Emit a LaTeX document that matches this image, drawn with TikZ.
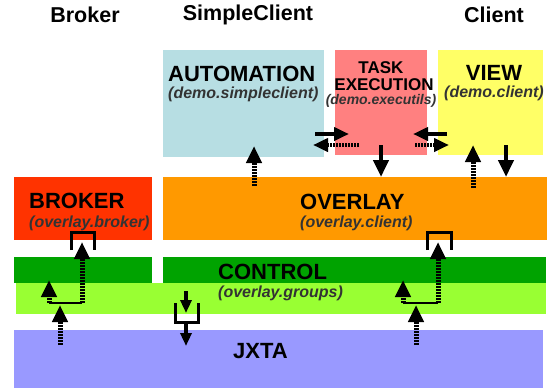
\documentclass[tikz,border=0pt]{standalone}
\usepackage{fontspec}
\setmainfont{Liberation Sans}
\usetikzlibrary{arrows.meta}
\definecolor{autoblue}{HTML}{B7DEE3}
\definecolor{taskred}{HTML}{FF8080}
\definecolor{viewyellow}{HTML}{FFFF66}
\definecolor{brokerred}{HTML}{FF3300}
\definecolor{overlayorange}{HTML}{FF9900}
\definecolor{controlgreen}{HTML}{00A300}
\definecolor{groupsgreen}{HTML}{99FF33}
\definecolor{jxtablue}{HTML}{9999FF}
\tikzset{
  layer/.style={draw=none, inner sep=0pt, anchor=north west},
  headtitle/.style={font=\fontsize{21.5}{24}\selectfont\bfseries},
  boxtitle/.style={font=\fontsize{22}{24}\selectfont\bfseries, inner sep=0pt},
  pkgname/.style={font=\fontsize{16}{18}\selectfont\bfseries\itshape, text=black!80, inner sep=0pt},
  bigtip/.style={-{Triangle[length=17pt,width=15pt]}},
  solidarrow/.style={bigtip, line width=4.5pt},
  stripy/.style={bigtip, line width=5pt, dash pattern=on 2pt off 1pt},
  sidesolid/.style={-{Triangle[length=15pt,width=13pt]}, line width=4.5pt},
  sidestripy/.style={sidesolid, dash pattern=on 2pt off 1pt},
  smallarrow/.style={-{Triangle[length=13pt,width=11pt]}, line width=3.5pt},
  bracket/.style={line width=3pt},
  joinline/.style={line width=1.4pt},
}
\begin{document}
\begin{tikzpicture}[x=1pt,y=-1pt]
\useasboundingbox (0,0) rectangle (553,389);
% layers
\node[layer, fill=autoblue, minimum width=161pt, minimum height=107pt] (automation) at (163,50) {};
\node[layer, fill=taskred, minimum width=92pt, minimum height=105pt] (task) at (335,50) {};
\node[layer, fill=viewyellow, minimum width=105pt, minimum height=105pt] (view) at (438,50) {};
\node[layer, fill=brokerred, minimum width=138pt, minimum height=63pt] (broker) at (14,177) {};
\node[layer, fill=overlayorange, minimum width=384pt, minimum height=63pt] (overlay) at (163,177) {};
\node[layer, fill=controlgreen, minimum width=138pt, minimum height=26pt] (controlL) at (14,257) {};
\node[layer, fill=controlgreen, minimum width=383pt, minimum height=26pt] (controlR) at (163,257) {};
\node[layer, fill=groupsgreen, minimum width=530pt, minimum height=31pt] (groups) at (16,283) {};
\node[layer, fill=jxtablue, minimum width=529pt, minimum height=58pt] (jxta) at (14,330) {};
% column titles
\foreach \x/\name/\lbl in {85/hbroker/Broker, 248/hsimple/SimpleClient, 494/hclient/Client}
  \node[headtitle] (\name) at (\x,15) {\lbl};
% layer texts
\node[boxtitle, anchor=west] (automationT) at (168,74) {AUTOMATION};
\node[pkgname, anchor=west] (automationP) at (168,94) {(demo.simpleclient)};
\node[boxtitle, font=\fontsize{17}{19}\selectfont\bfseries] (taskT) at (381,68) {TASK};
\node[boxtitle, font=\fontsize{17}{19}\selectfont\bfseries] (taskT2) at (384,84.5) {EXECUTION};
\node[pkgname, font=\fontsize{14}{16}\selectfont\bfseries\itshape] (taskP) at (381,100.5) {(demo.executils)};
\node[boxtitle] (viewT) at (494,73) {VIEW};
\node[pkgname] (viewP) at (494,93) {(demo.client)};
\node[boxtitle, anchor=west] (brokerT) at (29,201) {BROKER};
\node[pkgname, anchor=west] (brokerP) at (29,223) {(overlay.broker)};
\node[boxtitle, anchor=west] (overlayT) at (300,202) {OVERLAY};
\node[pkgname, anchor=west] (overlayP) at (300,223) {(overlay.client)};
\node[boxtitle, anchor=west] (controlT) at (218,272) {CONTROL};
\node[pkgname, anchor=west] (groupsP) at (218,293) {(overlay.groups)};
\node[boxtitle, anchor=west] (jxtaT) at (233,351) {JXTA};
% vertical arrows between the upper layers
\foreach \n/\x/\ya/\yb in {autoUp/254/186/146, viewUp/473/188/145}{
  \coordinate (\n S) at (\x,\ya);
  \coordinate (\n E) at (\x,\yb);
  \draw[stripy] (\n S) -- (\n E);
}
\foreach \n/\x/\ya/\yb in {taskDown/381/145/177, viewDown/506/145/177}{
  \coordinate (\n S) at (\x,\ya);
  \coordinate (\n E) at (\x,\yb);
  \draw[solidarrow] (\n S) -- (\n E);
}
% task execution side arrows
\coordinate (tl1) at (315,134); \coordinate (tl2) at (349,134);
\coordinate (tl3) at (359,145); \coordinate (tl4) at (313,145);
\coordinate (tr1) at (447,134); \coordinate (tr2) at (413,134);
\coordinate (tr3) at (415,145); \coordinate (tr4) at (449,145);
\draw[sidesolid] (tl1) -- (tl2);
\draw[sidestripy] (tl3) -- (tl4);
\draw[sidesolid] (tr1) -- (tr2);
\draw[sidestripy] (tr3) -- (tr4);
% brackets with the group arrows (broker and client)
\foreach \n/\bl/\br/\big/\small/\low in {b/71/94/82/49/60, c/427/451/438/403/416}{
  \coordinate (\n B1) at (\bl,250);
  \coordinate (\n B2) at (\bl,232);
  \coordinate (\n B3) at (\br,232);
  \coordinate (\n B4) at (\br,250);
  \draw[bracket] (\n B1) -- (\n B2) -- (\n B3) -- (\n B4);
  \coordinate (\n bigS) at (\big,303);
  \coordinate (\n bigE) at (\big,242);
  \coordinate (\n smS) at (\small,303);
  \coordinate (\n smE) at (\small,280);
  \coordinate (\n lowS) at (\low,345);
  \coordinate (\n lowE) at (\low,305);
  \draw[stripy] (\n bigS) -- (\n bigE);
  \draw[stripy] (\n smS) -- (\n smE);
  \draw[joinline] (\n smS) -- (\n bigS);
  \draw[stripy] (\n lowS) -- (\n lowE);
}
% groups to jxta
\coordinate (m1) at (186,291); \coordinate (m2) at (186,313);
\coordinate (mb1) at (175,303); \coordinate (mb2) at (175,322);
\coordinate (mb3) at (198,322); \coordinate (mb4) at (198,303);
\coordinate (m3) at (186,322); \coordinate (m4) at (186,346);
\draw[smallarrow] (m1) -- (m2);
\draw[bracket] (mb1) -- (mb2) -- (mb3) -- (mb4);
\draw[smallarrow] (m3) -- (m4);
\end{tikzpicture}
\end{document}
